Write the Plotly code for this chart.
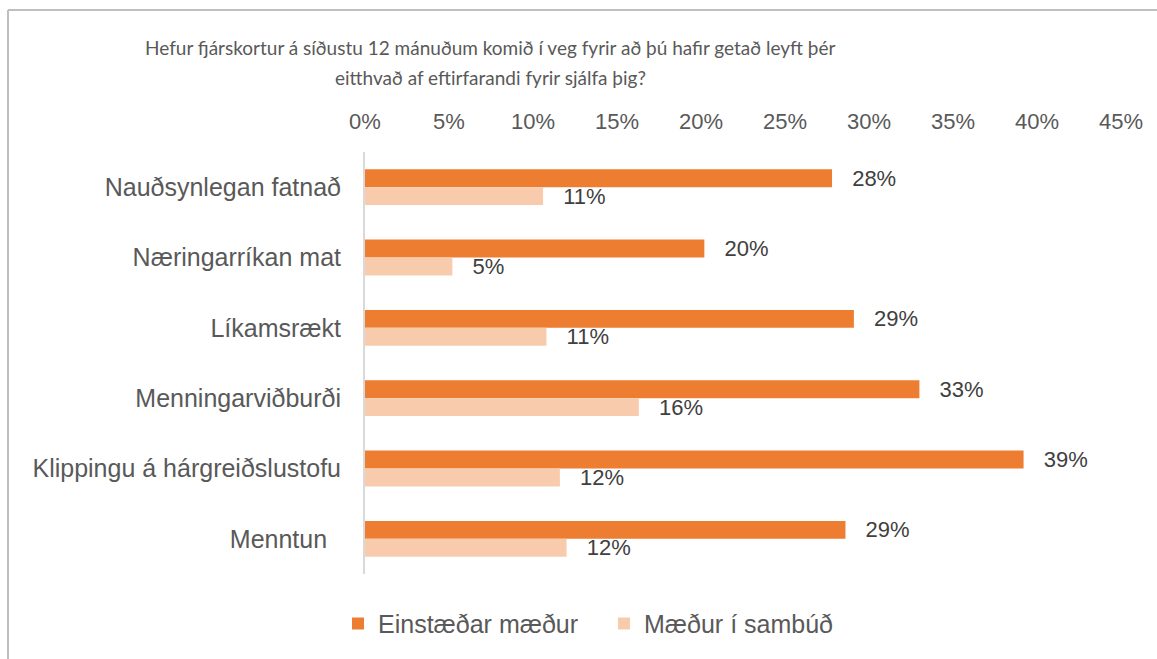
import plotly.graph_objects as go

categories = ["Nauðsynlegan fatnað", "Næringarríkan mat", "Líkamsrækt",
              "Menningarviðburði", "Klippingu á hárgreiðslustofu", "Menntun\u00a0\u00a0"]
single_mothers = [27.8, 20.2, 29.1, 33.0, 39.2, 28.6]
cohabiting_mothers = [10.6, 5.2, 10.8, 16.3, 11.6, 12.0]
series_names = ["Einstæðar mæður", "Mæður í sambúð"]
title_lines = ["Hefur fjárskortur á síðustu 12 mánuðum komið í veg fyrir að þú hafir getað leyft þér",
               "eitthvað af eftirfarandi fyrir sjálfa þig?"]
x_ticks = [0, 5, 10, 15, 20, 25, 30, 35, 40, 45]

ORANGE = "#ED7D31"
PEACH = "#F8CBAD"
FONT = "Liberation Sans, Arial, sans-serif"

fig = go.Figure()
for name, vals, col in [(series_names[0], single_mothers, ORANGE),
                        (series_names[1], cohabiting_mothers, PEACH)]:
    fig.add_trace(go.Bar(
        y=categories, x=vals, name=name, orientation="h",
        marker=dict(color=col, line=dict(width=0)),
        text=[f"\u2002\u00a0{round(v)}%" for v in vals],
        textposition="outside", constraintext="none", cliponaxis=False,
        textfont=dict(family=FONT, size=22, color="#404040"),
        hoverinfo="x+y",
    ))

L, R, T, B = 365, 36, 152, 82
W, H = 1157, 659
pw = W - L - R
ph = H - T - B

def px_x(x):
    return (x - L) / pw

def px_y(y):
    return 1 + (T - y) / ph

annotations = []
for line, ypix in zip(title_lines, [47, 77]):
    annotations.append(dict(
        text=line, xref="paper", yref="paper", x=px_x(490), y=px_y(ypix),
        xanchor="center", yanchor="middle", showarrow=False,
        font=dict(family="Lato, Open Sans, sans-serif", size=19, color="#595959")))

shapes = [
    dict(type="line", xref="paper", yref="paper", x0=px_x(8), x1=px_x(8),
         y0=px_y(9), y1=px_y(700), line=dict(color="#BFBFBF", width=2)),
    dict(type="line", xref="paper", yref="paper", x0=px_x(8), x1=px_x(1200),
         y0=px_y(9), y1=px_y(9), line=dict(color="#BFBFBF", width=2)),
]

fig.update_layout(
    width=W, height=H,
    margin=dict(l=L, r=R, t=T, b=B, pad=0),
    paper_bgcolor="white", plot_bgcolor="white",
    barmode="group", bargap=0.49, bargroupgap=0,
    showlegend=True,
    legend=dict(orientation="h", x=px_x(338), y=px_y(627), xanchor="left",
                yanchor="middle", font=dict(family=FONT, size=25, color="#595959"),
                itemwidth=30, entrywidth=221, traceorder="normal",
                bgcolor="rgba(0,0,0,0)"),
    annotations=annotations, shapes=shapes,
    xaxis=dict(range=[0, 45], side="top", tickvals=x_ticks,
               ticktext=[f"{t}%" for t in x_ticks], showgrid=False,
               zeroline=False, showline=False, ticks="",
               ticklabelstandoff=18,
               tickfont=dict(family=FONT, size=22, color="#595959"), fixedrange=True),
    yaxis=dict(autorange="reversed", showgrid=False, zeroline=False,
               showline=True, linecolor="#D9D9D9", linewidth=2, ticks="",
               ticklabelstandoff=17,
               tickfont=dict(family=FONT, size=25, color="#595959"), fixedrange=True),
)

fig.write_html("out.html")
